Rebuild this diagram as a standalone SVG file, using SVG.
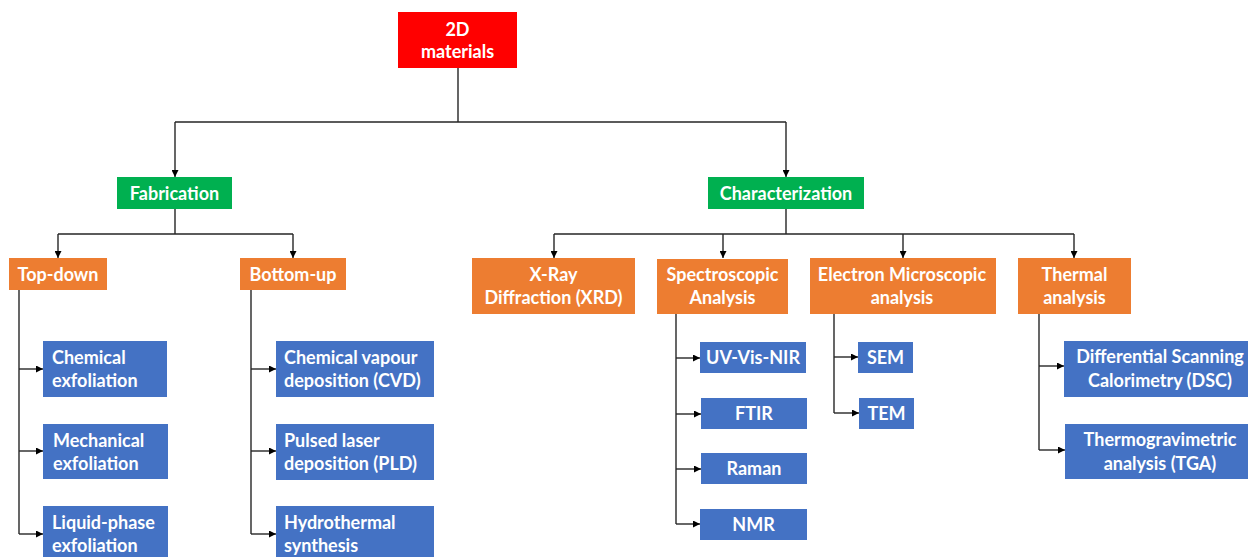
<svg xmlns="http://www.w3.org/2000/svg" width="1248" height="557" viewBox="0 0 1248 557">
<style>
  .red{fill:#FF0000}
  .green{fill:#00B050}
  .orange{fill:#ED7D31}
  .blue{fill:#4472C4}
  text{font-family:Lato,"Open Sans",sans-serif;font-weight:700;font-size:18px;fill:#FFFFFF}
  .c{text-anchor:middle}
  .conn path{fill:none;stroke:#262626;stroke-width:1.4}
</style>
<defs>
  <marker id="arr" viewBox="0 0 8 8" refX="8" refY="4" markerWidth="7" markerHeight="7" markerUnits="userSpaceOnUse" orient="auto">
    <path d="M0,0 L8,4 L0,8 Z" fill="#000"/>
  </marker>
</defs>
<rect width="1248" height="557" fill="#FFFFFF"/>

<g class="conn">
  <path d="M458,68 V122 M175,122 H786"/>
  <path d="M175,122 V177" marker-end="url(#arr)"/>
  <path d="M786,122 V177" marker-end="url(#arr)"/>
  <path d="M175,209 V234 M58,234 H293"/>
  <path d="M58,234 V258" marker-end="url(#arr)"/>
  <path d="M293,234 V258" marker-end="url(#arr)"/>
  <path d="M19,290 V534"/>
  <path d="M19,369 H43" marker-end="url(#arr)"/>
  <path d="M19,451 H43" marker-end="url(#arr)"/>
  <path d="M19,534 H43" marker-end="url(#arr)"/>
  <path d="M251,290 V534"/>
  <path d="M251,369 H276" marker-end="url(#arr)"/>
  <path d="M251,451 H276" marker-end="url(#arr)"/>
  <path d="M251,534 H276" marker-end="url(#arr)"/>
  <path d="M786,209 V234 M554,234 H1074"/>
  <path d="M554,234 V258" marker-end="url(#arr)"/>
  <path d="M723,234 V258" marker-end="url(#arr)"/>
  <path d="M903,234 V258" marker-end="url(#arr)"/>
  <path d="M1074,234 V258" marker-end="url(#arr)"/>
  <path d="M676,314 V524"/>
  <path d="M676,358 H700" marker-end="url(#arr)"/>
  <path d="M676,414 H701" marker-end="url(#arr)"/>
  <path d="M676,469 H701" marker-end="url(#arr)"/>
  <path d="M676,524 H700" marker-end="url(#arr)"/>
  <path d="M834,314 V413"/>
  <path d="M834,357 H858" marker-end="url(#arr)"/>
  <path d="M834,413 H859" marker-end="url(#arr)"/>
  <path d="M1039,314 V450"/>
  <path d="M1039,366 H1064" marker-end="url(#arr)"/>
  <path d="M1039,450 H1065" marker-end="url(#arr)"/>
</g>

<g id="root"><rect class="red" x="398" y="12" width="119" height="56"/>
  <text class="c" x="457.5" y="36">2D</text><text class="c" x="457.5" y="58">materials</text></g>

<g id="fabrication"><rect class="green" x="117" y="177" width="115" height="32"/>
  <text class="c" x="174.5" y="199.5">Fabrication</text></g>
<g id="characterization"><rect class="green" x="708" y="177" width="156" height="32"/>
  <text class="c" x="786" y="199.5">Characterization</text></g>

<g id="topdown"><rect class="orange" x="9" y="258" width="98" height="32"/>
  <text class="c" x="58" y="280.5">Top-down</text></g>
<g id="bottomup"><rect class="orange" x="240" y="258" width="106" height="32"/>
  <text class="c" x="293" y="280.5">Bottom-up</text></g>

<g id="chem-exf"><rect class="blue" x="43" y="341" width="124" height="56"/>
  <text x="52" y="364">Chemical</text><text x="52" y="387">exfoliation</text></g>
<g id="mech-exf"><rect class="blue" x="43" y="424" width="125" height="55"/>
  <text x="53" y="447">Mechanical</text><text x="53" y="470">exfoliation</text></g>
<g id="liq-exf"><rect class="blue" x="43" y="506" width="125" height="56"/>
  <text x="52" y="529">Liquid-phase</text><text x="52" y="552">exfoliation</text></g>

<g id="cvd"><rect class="blue" x="276" y="341" width="158" height="56"/>
  <text x="284" y="364">Chemical vapour</text><text x="284" y="387">deposition (CVD)</text></g>
<g id="pld"><rect class="blue" x="276" y="424" width="158" height="56"/>
  <text x="284" y="447">Pulsed laser</text><text x="284" y="470">deposition (PLD)</text></g>
<g id="hydro"><rect class="blue" x="276" y="506" width="158" height="56"/>
  <text x="284" y="529">Hydrothermal</text><text x="284" y="552">synthesis</text></g>

<g id="xrd"><rect class="orange" x="472" y="258" width="163" height="56"/>
  <text class="c" x="553.5" y="281">X-Ray</text><text class="c" x="553.5" y="304">Diffraction (XRD)</text></g>
<g id="spectro"><rect class="orange" x="657" y="259" width="131" height="55"/>
  <text class="c" x="722.5" y="281">Spectroscopic</text><text class="c" x="722.5" y="304">Analysis</text></g>
<g id="electron"><rect class="orange" x="810" y="258" width="186" height="56"/>
  <text class="c" x="902" y="281">Electron Microscopic</text><text class="c" x="902" y="304">analysis</text></g>
<g id="thermal"><rect class="orange" x="1018" y="258" width="113" height="56"/>
  <text class="c" x="1074.5" y="281">Thermal</text><text class="c" x="1074.5" y="304">analysis</text></g>

<g id="uvvis"><rect class="blue" x="700" y="342" width="106" height="31"/>
  <text class="c" x="753" y="364">UV-Vis-NIR</text></g>
<g id="ftir"><rect class="blue" x="701" y="398" width="106" height="31"/>
  <text class="c" x="754" y="420">FTIR</text></g>
<g id="raman"><rect class="blue" x="701" y="453" width="106" height="31"/>
  <text class="c" x="754" y="475">Raman</text></g>
<g id="nmr"><rect class="blue" x="700" y="509" width="107" height="31"/>
  <text class="c" x="753.5" y="531">NMR</text></g>

<g id="sem"><rect class="blue" x="858" y="342" width="55" height="31"/>
  <text class="c" x="885.5" y="364">SEM</text></g>
<g id="tem"><rect class="blue" x="859" y="398" width="55" height="31"/>
  <text class="c" x="886.5" y="420">TEM</text></g>

<g id="dsc"><rect class="blue" x="1064" y="341" width="192" height="56"/>
  <text class="c" x="1160" y="363">Differential Scanning</text><text class="c" x="1160" y="387">Calorimetry (DSC)</text></g>
<g id="tga"><rect class="blue" x="1065" y="424" width="191" height="55"/>
  <text class="c" x="1160" y="446">Thermogravimetric</text><text class="c" x="1160" y="470">analysis (TGA)</text></g>
</svg>
